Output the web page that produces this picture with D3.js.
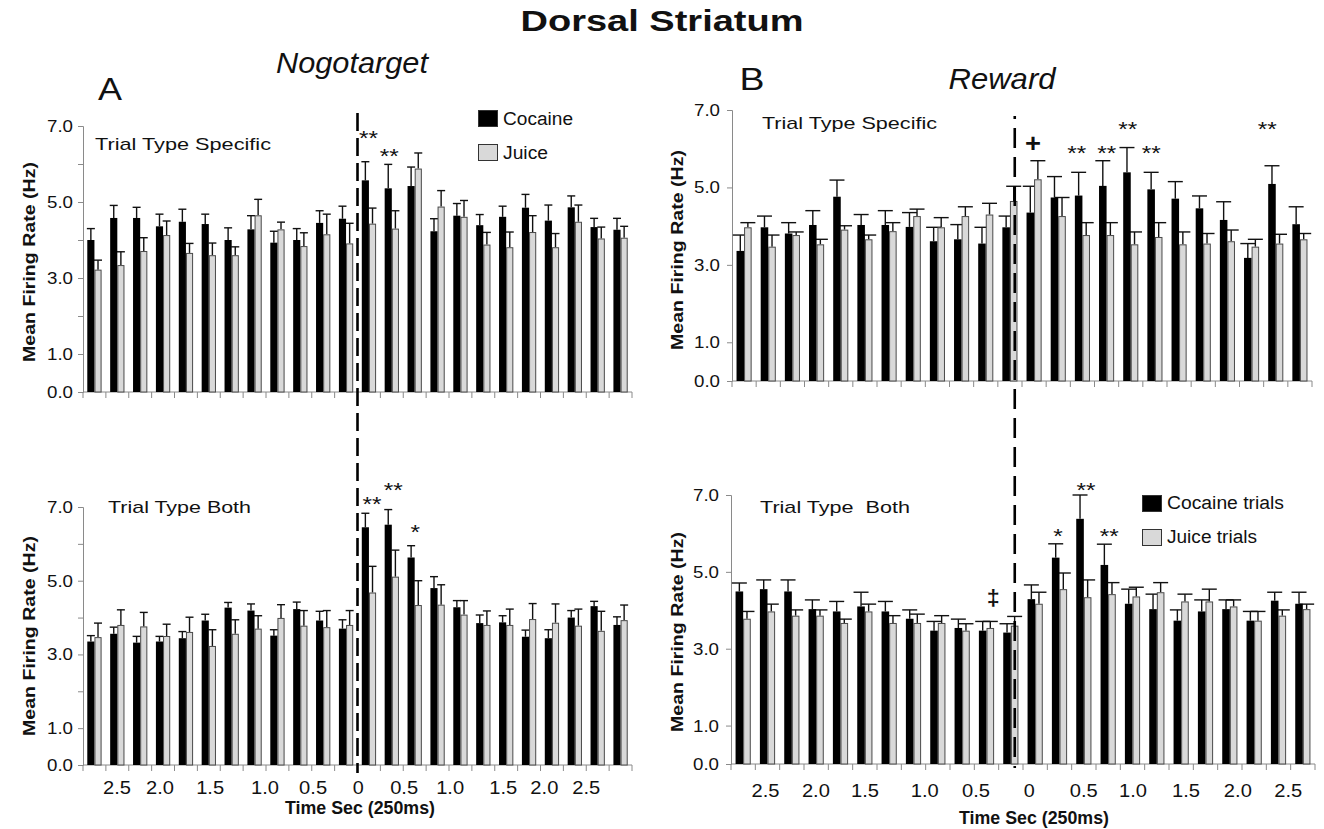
<!DOCTYPE html>
<html>
<head>
<meta charset="utf-8">
<script src="https://cdn.jsdelivr.net/npm/d3@7"></script>
<style>
  body { margin: 0; background: #fff; }
  svg { display: block; font-family: "Liberation Sans", Arial, sans-serif; }
  text { white-space: pre; }
</style>
</head>
<body>
<svg></svg>
<script>
// time bins, 250 ms each, 12 before and 12 after the event
const bins = d3.range(24);

// A: Nogotarget, trial type specific
const nogoSpecCoc = [4.0, 4.58, 4.58, 4.36, 4.48, 4.42, 4.0, 4.28, 3.93, 4.0, 4.45, 4.56, 5.57, 5.36, 5.42, 4.23, 4.64, 4.39, 4.61, 4.85, 4.51, 4.86, 4.34, 4.27];
const nogoSpecCocErr = [0.3, 0.33, 0.28, 0.32, 0.33, 0.26, 0.32, 0.36, 0.3, 0.3, 0.32, 0.33, 0.49, 0.63, 0.5, 0.33, 0.32, 0.28, 0.28, 0.35, 0.41, 0.3, 0.23, 0.3];
const nogoSpecJui = [3.22, 3.34, 3.71, 4.13, 3.66, 3.6, 3.6, 4.65, 4.28, 3.84, 4.15, 3.91, 4.43, 4.3, 5.88, 4.88, 4.61, 3.88, 3.81, 4.21, 3.81, 4.48, 4.04, 4.06];
const nogoSpecJuiErr = [0.25, 0.35, 0.35, 0.37, 0.25, 0.32, 0.22, 0.42, 0.19, 0.35, 0.53, 0.53, 0.41, 0.47, 0.41, 0.42, 0.43, 0.32, 0.4, 0.43, 0.36, 0.44, 0.3, 0.3];

// A: Nogotarget, trial type both
const nogoBothCoc = [3.35, 3.56, 3.32, 3.35, 3.44, 3.92, 4.27, 4.19, 3.51, 4.23, 3.92, 3.7, 6.45, 6.52, 5.63, 4.8, 4.28, 3.85, 3.87, 3.48, 3.44, 4.0, 4.31, 3.8];
const nogoBothCocErr = [0.16, 0.18, 0.17, 0.14, 0.18, 0.17, 0.14, 0.18, 0.16, 0.19, 0.25, 0.24, 0.38, 0.41, 0.32, 0.31, 0.18, 0.22, 0.18, 0.18, 0.23, 0.19, 0.13, 0.22];
const nogoBothJui = [3.47, 3.8, 3.76, 3.5, 3.61, 3.23, 3.56, 3.7, 3.99, 3.78, 3.74, 3.8, 4.68, 5.11, 4.34, 4.35, 4.08, 3.8, 3.8, 3.96, 3.86, 3.78, 3.64, 3.93];
const nogoBothJuiErr = [0.38, 0.41, 0.38, 0.32, 0.4, 0.44, 0.38, 0.35, 0.36, 0.41, 0.45, 0.39, 0.71, 0.72, 0.66, 0.54, 0.38, 0.38, 0.43, 0.42, 0.51, 0.45, 0.53, 0.41];

// B: Reward, trial type specific
const rewSpecCoc = [3.36, 3.97, 3.81, 4.03, 4.76, 4.03, 4.03, 3.98, 3.61, 3.66, 3.55, 3.97, 4.35, 4.74, 4.79, 5.04, 5.39, 4.95, 4.71, 4.46, 4.16, 3.18, 5.09, 4.05];
const rewSpecCocErr = [0.41, 0.29, 0.28, 0.37, 0.43, 0.27, 0.37, 0.37, 0.36, 0.38, 0.42, 0.29, 0.68, 0.54, 0.6, 0.65, 0.64, 0.44, 0.44, 0.32, 0.47, 0.37, 0.47, 0.45];
const rewSpecJui = [3.97, 3.47, 3.77, 3.53, 3.91, 3.66, 3.87, 4.26, 3.97, 4.26, 4.3, 4.65, 5.21, 4.26, 3.77, 3.77, 3.53, 3.72, 3.53, 3.55, 3.61, 3.47, 3.55, 3.66];
const rewSpecJuiErr = [0.12, 0.3, 0.08, 0.13, 0.1, 0.11, 0.22, 0.18, 0.25, 0.24, 0.29, 0.38, 0.48, 0.48, 0.32, 0.32, 0.32, 0.37, 0.32, 0.26, 0.29, 0.19, 0.24, 0.15];

// B: Reward, trial type both
const rewBothCoc = [4.49, 4.55, 4.49, 4.03, 3.97, 4.1, 3.97, 3.78, 3.47, 3.54, 3.47, 3.42, 4.29, 5.37, 6.38, 5.18, 4.17, 4.03, 3.73, 3.97, 4.03, 3.73, 4.25, 4.17];
const rewBothCocErr = [0.22, 0.24, 0.3, 0.24, 0.26, 0.37, 0.26, 0.23, 0.24, 0.23, 0.24, 0.23, 0.37, 0.36, 0.62, 0.54, 0.38, 0.39, 0.28, 0.3, 0.24, 0.24, 0.22, 0.3];
const rewBothJui = [3.78, 3.97, 3.86, 3.86, 3.67, 3.97, 3.67, 3.67, 3.67, 3.47, 3.54, 3.6, 4.17, 4.55, 4.34, 4.42, 4.36, 4.47, 4.23, 4.23, 4.1, 3.73, 3.86, 4.03];
const rewBothJuiErr = [0.19, 0.19, 0.15, 0.15, 0.1, 0.19, 0.19, 0.23, 0.19, 0.18, 0.17, 0.24, 0.3, 0.42, 0.45, 0.3, 0.24, 0.25, 0.19, 0.32, 0.17, 0.24, 0.15, 0.13];

// significance marks: bin coordinate and rate level
const nogoSpecStars = [{ at: 12.48, v: 6.82, s: "**" }, { at: 13.39, v: 6.34, s: "**" }];
const nogoBothStars = [{ at: 12.64, v: 7.23, s: "**" }, { at: 13.56, v: 7.6, s: "**" }, { at: 14.52, v: 6.47, s: "*" }];
const rewSpecStars = [
  { at: 12.45, v: 6.12, s: "+" }, { at: 14.27, v: 6.03, s: "**" }, { at: 15.51, v: 6.03, s: "**" },
  { at: 16.38, v: 6.63, s: "**" }, { at: 17.35, v: 6.03, s: "**" }, { at: 22.15, v: 6.63, s: "**" }
];
const rewBothStars = [{ at: 10.78, v: 4.33, s: "‡" }, { at: 13.44, v: 6.06, s: "*" }, { at: 14.59, v: 7.27, s: "**" }, { at: 15.55, v: 6.06, s: "**" }];

// time tick labels (seconds from event) and where they sit, in bins
const timeLabels = ["2.5", "2.0", "1.5", "1.0", "0.5", "0", "0.5", "1.0", "1.5", "2.0", "2.5"];
const timeAtA = [1.49, 3.37, 5.56, 7.96, 10.06, 12.03, 14.04, 16.05, 18.37, 20.17, 22.0];
const timeAtB = [1.42, 3.49, 5.51, 7.96, 10.07, 12.26, 14.5, 16.52, 18.7, 20.83, 22.9];

// event line, in bins
const eventA = 12;
const eventB = 11.7;

let width = 1324;
let height = 829;
let svg = d3.select("svg").attr("width", width).attr("height", height);

function txt(g, s, x, y, size, len, o = {}) {
  let t = g.append("text")
    .attr("x", x)
    .attr("y", y)
    .attr("font-size", size)
    .attr("fill", "#111")
    .text(s);
  if (len) t.attr("textLength", len).attr("lengthAdjust", "spacingAndGlyphs");
  if (o.anchor) t.attr("text-anchor", o.anchor);
  if (o.weight) t.attr("font-weight", o.weight);
  if (o.style) t.attr("font-style", o.style);
  if (o.rotate) t.attr("transform", `rotate(-90 ${x} ${y})`);
  return t;
}

let panels = [
  { x0: 83, x1: 632, y0: 392, y7: 126, coc: nogoSpecCoc, cocErr: nogoSpecCocErr, jui: nogoSpecJui, juiErr: nogoSpecJuiErr,
    caption: "Trial Type Specific", capX: 95, capY: 150, capLen: 176, minor: true, capW: 8, stars: nogoSpecStars, yTitle: [35, 262] },
  { x0: 83, x1: 632, y0: 765, y7: 507, coc: nogoBothCoc, cocErr: nogoBothCocErr, jui: nogoBothJui, juiErr: nogoBothJuiErr,
    caption: "Trial Type Both", capX: 108, capY: 513, capLen: 143, minor: true, capW: 8, stars: nogoBothStars, yTitle: [35, 636],
    times: timeAtA, timeY: 794 },
  { x0: 732, x1: 1312, y0: 381, y7: 110, coc: rewSpecCoc, cocErr: rewSpecCocErr, jui: rewSpecJui, juiErr: rewSpecJuiErr,
    caption: "Trial Type Specific", capX: 762, capY: 129, capLen: 175, minor: false, capW: 15, stars: rewSpecStars, yTitle: [683, 250] },
  { x0: 731, x1: 1315, y0: 764, y7: 495, coc: rewBothCoc, cocErr: rewBothCocErr, jui: rewBothJui, juiErr: rewBothJuiErr,
    caption: "Trial Type  Both", capX: 760, capY: 513, capLen: 150, minor: false, capW: 15, stars: rewBothStars, yTitle: [683, 632],
    times: timeAtB, timeY: 797 }
];

let scales = [];

for (let p of panels) {
  let g = svg.append("g");
  let x = d3.scaleLinear().domain([0, 24]).range([p.x0, p.x1]);
  let y = d3.scaleLinear().domain([0, 7]).range([p.y0, p.y7]);
  let step = x(1) - x(0);
  let inner = d3.scaleBand().domain(["coc", "jui"]).range([0, step]).paddingInner(0).paddingOuter(0.6);
  scales.push({ x, y });

  // y axis, labels on odd values only
  let yAxis = d3.axisLeft(y)
    .tickValues(p.minor ? d3.range(0, 8) : [0, 1, 3, 5, 7])
    .tickFormat((d) => ([0, 1, 3, 5, 7].includes(d) ? d3.format(".1f")(d) : ""))
    .tickSize(5)
    .tickPadding(p.minor ? 5 : 7);
  let ya = g.append("g").attr("transform", `translate(${p.x0},0)`).call(yAxis);
  ya.select(".domain").attr("stroke", "#8a8a8a");
  ya.selectAll(".tick line").attr("stroke", "#8a8a8a");
  ya.selectAll(".tick text")
    .attr("font-size", 17)
    .attr("font-family", "Liberation Sans, Arial, sans-serif")
    .attr("fill", "#111")
    .attr("textLength", (d) => ([0, 1, 3, 5, 7].includes(d) ? 26 : null))
    .attr("lengthAdjust", "spacingAndGlyphs");

  // x axis line with a tick at every bin edge
  g.append("line")
    .attr("x1", p.x0).attr("x2", p.x1)
    .attr("y1", y(0)).attr("y2", y(0))
    .attr("stroke", "#8a8a8a");
  g.append("g")
    .selectAll("line")
    .data(d3.range(25))
    .join("line")
    .attr("x1", (d) => x(d)).attr("x2", (d) => x(d))
    .attr("y1", y(0)).attr("y2", y(0) + 6)
    .attr("stroke", "#8a8a8a");

  let rows = bins.map((i) => ({
    i,
    coc: p.coc[i], cocErr: p.cocErr[i],
    jui: p.jui[i], juiErr: p.juiErr[i]
  }));

  let groups = g.append("g")
    .selectAll("g")
    .data(rows)
    .join("g")
    .attr("transform", (d) => `translate(${x(d.i)},0)`);

  // error bars behind bars
  for (let key of ["coc", "jui"]) {
    let cx = inner(key) + inner.bandwidth() / 2;
    groups.append("line")
      .attr("x1", cx).attr("x2", cx)
      .attr("y1", (d) => y(d[key]))
      .attr("y2", (d) => y(d[key] + d[key + "Err"]))
      .attr("stroke", "#111")
      .attr("stroke-width", 1.4);
    groups.append("line")
      .attr("x1", cx - p.capW / 2).attr("x2", cx + p.capW / 2)
      .attr("y1", (d) => y(d[key] + d[key + "Err"]))
      .attr("y2", (d) => y(d[key] + d[key + "Err"]))
      .attr("stroke", "#111")
      .attr("stroke-width", 1.4);
  }

  groups.append("rect")
    .attr("x", inner("coc"))
    .attr("width", inner.bandwidth())
    .attr("y", (d) => y(d.coc))
    .attr("height", (d) => y(0) - y(d.coc))
    .attr("fill", "#000");

  groups.append("rect")
    .attr("x", inner("jui") + 0.5)
    .attr("width", inner.bandwidth() - 1)
    .attr("y", (d) => y(d.jui) + 0.5)
    .attr("height", (d) => y(0) - y(d.jui) - 0.5)
    .attr("fill", "#d9d9d9")
    .attr("stroke", "#4a4a4a")
    .attr("stroke-width", 1);

  // significance marks
  for (let s of p.stars) {
    if (s.s == "+") {
      txt(g, s.s, x(s.at), y(s.v) + 8, 26, 16, { anchor: "middle", weight: "bold" });
    } else if (s.s == "‡") {
      txt(g, s.s, x(s.at), y(s.v) + 7, 22, 13, { anchor: "middle", weight: "bold" });
    } else {
      txt(g, s.s, x(s.at), y(s.v) + 12, 21, s.s.length * 9.5, { anchor: "middle" });
    }
  }

  txt(g, p.caption, p.capX, p.capY, 17, p.capLen);
  txt(g, "Mean Firing Rate (Hz)", p.yTitle[0], p.yTitle[1], 17, 200, { anchor: "middle", weight: "bold", rotate: true });

  if (p.times) {
    timeLabels.forEach((t, k) => {
      txt(g, t, x(p.times[k]), p.timeY, 18, t.length == 1 ? 11 : 28, { anchor: "middle" });
    });
  }
}

// event lines running through both rows
svg.append("line")
  .attr("x1", scales[0].x(eventA)).attr("x2", scales[0].x(eventA))
  .attr("y1", 113).attr("y2", 773)
  .attr("stroke", "#000")
  .attr("stroke-width", 2.6)
  .attr("stroke-dasharray", "18,7");

let xb = scales[2].x(eventB);
svg.append("line")
  .attr("x1", xb).attr("x2", xb)
  .attr("y1", 116).attr("y2", 119)
  .attr("stroke", "#000")
  .attr("stroke-width", 2.6);
svg.append("line")
  .attr("x1", xb).attr("x2", xb)
  .attr("y1", 128).attr("y2", 768)
  .attr("stroke", "#000")
  .attr("stroke-width", 2.6)
  .attr("stroke-dasharray", "20,9");

// legends
let legendA = [{ text: "Cocaine", fill: "#000", len: 70 }, { text: "Juice", fill: "#d9d9d9", len: 45 }];
let legendB = [{ text: "Cocaine trials", fill: "#000", len: 117 }, { text: "Juice trials", fill: "#d9d9d9", len: 90 }];

let yPlacement = 0;
for (let l of legendA) {
  svg.append("rect")
    .attr("x", 478.5).attr("y", 110.5 + yPlacement)
    .attr("width", 19).attr("height", 16)
    .attr("fill", l.fill).attr("stroke", "#333");
  txt(svg, l.text, 503, 125 + yPlacement, 18, l.len);
  yPlacement += 34;
}

yPlacement = 0;
for (let l of legendB) {
  svg.append("rect")
    .attr("x", 1142.5).attr("y", 495.5 + yPlacement)
    .attr("width", 19).attr("height", 16)
    .attr("fill", l.fill).attr("stroke", "#333");
  txt(svg, l.text, 1167, 509 + yPlacement, 18, l.len);
  yPlacement += 34;
}

// titles
txt(svg, "Dorsal Striatum", 662, 31, 30, 283, { anchor: "middle", weight: "bold" });
txt(svg, "Nogotarget", 352, 73, 29, 152, { anchor: "middle", style: "italic" });
txt(svg, "Reward", 1002, 89, 29, 107, { anchor: "middle", style: "italic" });
txt(svg, "A", 110, 100, 31, 24, { anchor: "middle" });
txt(svg, "B", 752, 90, 31, 25, { anchor: "middle" });
txt(svg, "Time Sec (250ms)", 360, 814, 18, 150, { anchor: "middle", weight: "bold" });
txt(svg, "Time Sec (250ms)", 1034, 824, 18, 150, { anchor: "middle", weight: "bold" });
</script>
</body>
</html>
